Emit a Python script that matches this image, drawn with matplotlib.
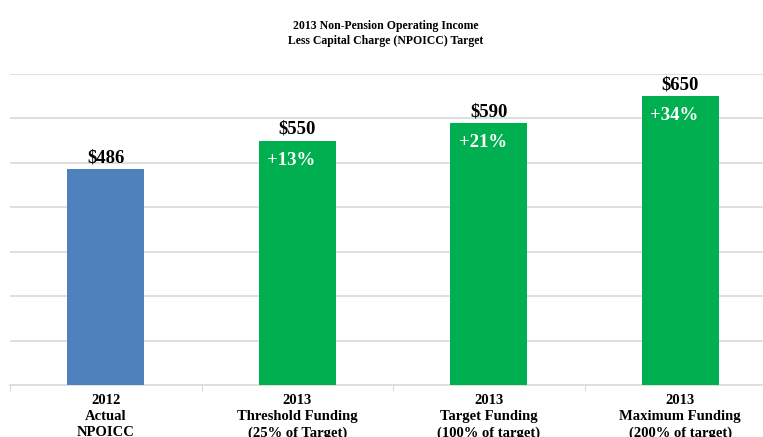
import numpy as np
import matplotlib.pyplot as plt

categories = ["2012\nActual\nNPOICC",
              "2013\nThreshold Funding\n(25% of Target)",
              "2013\nTarget Funding\n(100% of target)",
              "2013\nMaximum Funding\n(200% of target)"]
values = [486, 550, 590, 650]
value_labels = ["$486", "$550", "$590", "$650"]
pct_labels = ["", "+13%", "+21%", "+34%"]
colors = ["#4f81bd", "#00b050", "#00b050", "#00b050"]

plt.rcParams['font.family'] = ['Liberation Serif', 'DejaVu Serif']

fig = plt.figure(figsize=(7.63, 4.37), dpi=100)
# axes extend a little past the right edge, like the cropped original
ax = fig.add_axes([10 / 763, 1 - 385 / 437, 766 / 763, 311 / 437])

x = np.arange(len(values))
ax.bar(x, values, width=0.40, color=colors, zorder=3)
ax.set_xlim(-0.5, len(values) - 0.5)
ax.set_ylim(0, 700)
ax.set_yticks(np.arange(100, 701, 100))
ax.yaxis.grid(True, color="#d9d9d9", linewidth=1.2, zorder=0)
ax.tick_params(axis="y", length=0, labelleft=False)

for s in ["top", "right", "left"]:
    ax.spines[s].set_visible(False)
ax.spines["bottom"].set_color("#d9d9d9")
ax.spines["bottom"].set_linewidth(1.2)

# category boundary ticks
ax.set_xticks(np.arange(-0.5, len(values), 1.0))
ax.set_xticklabels([])
ax.tick_params(axis="x", length=4, color="#d9d9d9", direction="out")
for i, c in enumerate(categories):
    ax.text(i, -21, c, ha="center", va="top", fontsize=10.5,
            fontweight="bold", linespacing=1.3)

for i, v in enumerate(values):
    ax.text(i, v + 6, value_labels[i], ha="center", va="bottom",
            fontsize=13.5, fontweight="bold")
    if pct_labels[i]:
        ax.text(i - 0.03, v - 44, pct_labels[i], ha="center", va="center",
                fontsize=13.5, fontweight="bold", color="white", zorder=4)

fig.text(0.505, 0.955, "2013 Non-Pension Operating Income\nLess Capital Charge (NPOICC) Target",
         ha="center", va="top", fontsize=8.5, fontweight="bold", linespacing=1.35)

fig.savefig("out.png", dpi=100)
